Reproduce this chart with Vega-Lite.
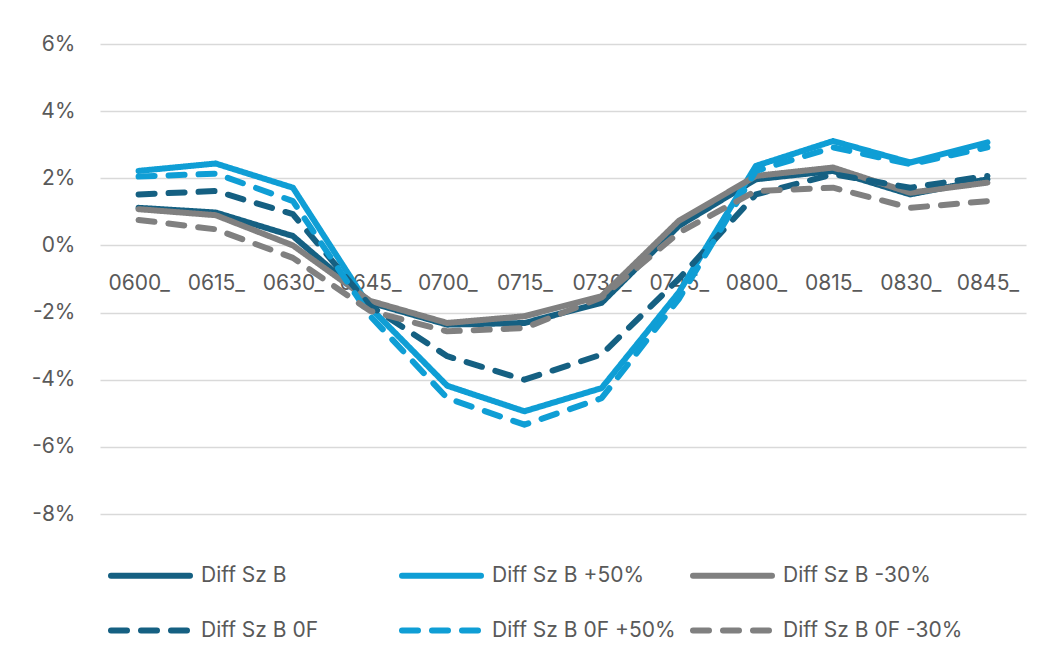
{
  "$schema": "https://vega.github.io/schema/vega-lite/v6.json",
  "width": 926,
  "height": 470,
  "autosize": {"type": "none"},
  "padding": {"left": 100, "top": 44, "right": 36, "bottom": 147},
  "background": "white",
  "config": {"view": {"stroke": null}, "font": "Inter"},
  "data": {"values": [
    {"time": "0600_", "series": "Diff Sz B", "value": 0.0112},
    {"time": "0615_", "series": "Diff Sz B", "value": 0.0098},
    {"time": "0630_", "series": "Diff Sz B", "value": 0.0028},
    {"time": "0645_", "series": "Diff Sz B", "value": -0.017},
    {"time": "0700_", "series": "Diff Sz B", "value": -0.0236},
    {"time": "0715_", "series": "Diff Sz B", "value": -0.0231},
    {"time": "0730_", "series": "Diff Sz B", "value": -0.0171},
    {"time": "0745_", "series": "Diff Sz B", "value": 0.0058},
    {"time": "0800_", "series": "Diff Sz B", "value": 0.0197},
    {"time": "0815_", "series": "Diff Sz B", "value": 0.0222},
    {"time": "0830_", "series": "Diff Sz B", "value": 0.0152},
    {"time": "0845_", "series": "Diff Sz B", "value": 0.0197},

    {"time": "0600_", "series": "Diff Sz B +50%", "value": 0.0222},
    {"time": "0615_", "series": "Diff Sz B +50%", "value": 0.0244},
    {"time": "0630_", "series": "Diff Sz B +50%", "value": 0.0172},
    {"time": "0645_", "series": "Diff Sz B +50%", "value": -0.0185},
    {"time": "0700_", "series": "Diff Sz B +50%", "value": -0.0418},
    {"time": "0715_", "series": "Diff Sz B +50%", "value": -0.0494},
    {"time": "0730_", "series": "Diff Sz B +50%", "value": -0.0425},
    {"time": "0745_", "series": "Diff Sz B +50%", "value": -0.014},
    {"time": "0800_", "series": "Diff Sz B +50%", "value": 0.0237},
    {"time": "0815_", "series": "Diff Sz B +50%", "value": 0.0311},
    {"time": "0830_", "series": "Diff Sz B +50%", "value": 0.0247},
    {"time": "0845_", "series": "Diff Sz B +50%", "value": 0.0307},

    {"time": "0600_", "series": "Diff Sz B -30%", "value": 0.0108},
    {"time": "0615_", "series": "Diff Sz B -30%", "value": 0.009},
    {"time": "0630_", "series": "Diff Sz B -30%", "value": 0.0},
    {"time": "0645_", "series": "Diff Sz B -30%", "value": -0.0165},
    {"time": "0700_", "series": "Diff Sz B -30%", "value": -0.0231},
    {"time": "0715_", "series": "Diff Sz B -30%", "value": -0.0211},
    {"time": "0730_", "series": "Diff Sz B -30%", "value": -0.0151},
    {"time": "0745_", "series": "Diff Sz B -30%", "value": 0.0073},
    {"time": "0800_", "series": "Diff Sz B -30%", "value": 0.0207},
    {"time": "0815_", "series": "Diff Sz B -30%", "value": 0.0232},
    {"time": "0830_", "series": "Diff Sz B -30%", "value": 0.0157},
    {"time": "0845_", "series": "Diff Sz B -30%", "value": 0.0187},

    {"time": "0600_", "series": "Diff Sz B 0F", "value": 0.0152},
    {"time": "0615_", "series": "Diff Sz B 0F", "value": 0.0162},
    {"time": "0630_", "series": "Diff Sz B 0F", "value": 0.0093},
    {"time": "0645_", "series": "Diff Sz B 0F", "value": -0.018},
    {"time": "0700_", "series": "Diff Sz B 0F", "value": -0.033},
    {"time": "0715_", "series": "Diff Sz B 0F", "value": -0.04},
    {"time": "0730_", "series": "Diff Sz B 0F", "value": -0.0325},
    {"time": "0745_", "series": "Diff Sz B 0F", "value": -0.01},
    {"time": "0800_", "series": "Diff Sz B 0F", "value": 0.0152},
    {"time": "0815_", "series": "Diff Sz B 0F", "value": 0.0212},
    {"time": "0830_", "series": "Diff Sz B 0F", "value": 0.0172},
    {"time": "0845_", "series": "Diff Sz B 0F", "value": 0.0207},

    {"time": "0600_", "series": "Diff Sz B 0F +50%", "value": 0.0205},
    {"time": "0615_", "series": "Diff Sz B 0F +50%", "value": 0.0214},
    {"time": "0630_", "series": "Diff Sz B 0F +50%", "value": 0.0132},
    {"time": "0645_", "series": "Diff Sz B 0F +50%", "value": -0.021},
    {"time": "0700_", "series": "Diff Sz B 0F +50%", "value": -0.0455},
    {"time": "0715_", "series": "Diff Sz B 0F +50%", "value": -0.0534},
    {"time": "0730_", "series": "Diff Sz B 0F +50%", "value": -0.0455},
    {"time": "0745_", "series": "Diff Sz B 0F +50%", "value": -0.016},
    {"time": "0800_", "series": "Diff Sz B 0F +50%", "value": 0.0222},
    {"time": "0815_", "series": "Diff Sz B 0F +50%", "value": 0.0292},
    {"time": "0830_", "series": "Diff Sz B 0F +50%", "value": 0.0242},
    {"time": "0845_", "series": "Diff Sz B 0F +50%", "value": 0.0292},

    {"time": "0600_", "series": "Diff Sz B 0F -30%", "value": 0.0076},
    {"time": "0615_", "series": "Diff Sz B 0F -30%", "value": 0.0048},
    {"time": "0630_", "series": "Diff Sz B 0F -30%", "value": -0.0037},
    {"time": "0645_", "series": "Diff Sz B 0F -30%", "value": -0.0195},
    {"time": "0700_", "series": "Diff Sz B 0F -30%", "value": -0.0256},
    {"time": "0715_", "series": "Diff Sz B 0F -30%", "value": -0.0246},
    {"time": "0730_", "series": "Diff Sz B 0F -30%", "value": -0.0155},
    {"time": "0745_", "series": "Diff Sz B 0F -30%", "value": 0.0038},
    {"time": "0800_", "series": "Diff Sz B 0F -30%", "value": 0.0162},
    {"time": "0815_", "series": "Diff Sz B 0F -30%", "value": 0.0172},
    {"time": "0830_", "series": "Diff Sz B 0F -30%", "value": 0.0112},
    {"time": "0845_", "series": "Diff Sz B 0F -30%", "value": 0.0132}
  ]},
  "mark": {"type": "line", "strokeWidth": 6, "strokeCap": "round", "strokeJoin": "round"},
  "encoding": {
    "x": {
      "field": "time", "type": "ordinal", "sort": null,
      "axis": {
        "orient": "bottom", "offset": -268.6, "title": null, "domain": false, "ticks": false, "tickSize": 0,
        "grid": false, "labelAngle": 0, "labelPadding": 27, "labelFontSize": 21, "labelColor": "#595959",
        "labelFont": "Inter", "labelOverlap": false, "zindex": 0
      }
    },
    "y": {
      "field": "value", "type": "quantitative",
      "scale": {"domain": [-0.08, 0.06], "nice": false, "zero": false},
      "axis": {
        "values": [-0.08, -0.06, -0.04, -0.02, 0, 0.02, 0.04, 0.06], "title": null,
        "labelExpr": "replace(format(datum.value, '.0%'), '\u2212', '-')",
        "domain": false, "ticks": false, "tickSize": 0, "labelPadding": 25, "labelFontSize": 21,
        "labelColor": "#595959", "labelFont": "Inter", "grid": true, "gridColor": "#D9D9D9", "gridWidth": 1.5, "zindex": 0
      }
    },
    "color": {
      "field": "series", "type": "nominal",
      "scale": {
        "domain": ["Diff Sz B", "Diff Sz B +50%", "Diff Sz B -30%", "Diff Sz B 0F", "Diff Sz B 0F +50%", "Diff Sz B 0F -30%"],
        "range": ["#156082", "#0F9ED5", "#808080", "#156082", "#0F9ED5", "#808080"]
      },
      "legend": {
        "orient": "none", "legendX": 8, "legendY": 489, "direction": "horizontal", "columns": 3,
        "title": null, "symbolType": "stroke", "symbolSize": 6241, "symbolStrokeWidth": 6,
        "labelFontSize": 21, "labelColor": "#595959", "labelFont": "Inter", "labelOffset": 8,
        "columnPadding": 5, "rowPadding": -27, "gridAlign": "all", "padding": 0, "labelLimit": 400,
        "encode": {"symbols": {"update": {"strokeCap": {"value": "round"}}}}
      }
    },
    "strokeDash": {
      "field": "series", "type": "nominal",
      "scale": {
        "domain": ["Diff Sz B", "Diff Sz B +50%", "Diff Sz B -30%", "Diff Sz B 0F", "Diff Sz B 0F +50%", "Diff Sz B 0F -30%"],
        "range": [[1, 0], [1, 0], [1, 0], [16, 14], [16, 14], [16, 14]]
      },
      "legend": {
        "orient": "none", "legendX": 8, "legendY": 489, "direction": "horizontal", "columns": 3,
        "title": null, "symbolType": "stroke", "symbolSize": 6241, "symbolStrokeWidth": 6,
        "labelFontSize": 21, "labelColor": "#595959", "labelFont": "Inter", "labelOffset": 8,
        "columnPadding": 5, "rowPadding": -27, "gridAlign": "all", "padding": 0, "labelLimit": 400,
        "encode": {"symbols": {"update": {"strokeCap": {"value": "round"}}}}
      }
    }
  }
}
